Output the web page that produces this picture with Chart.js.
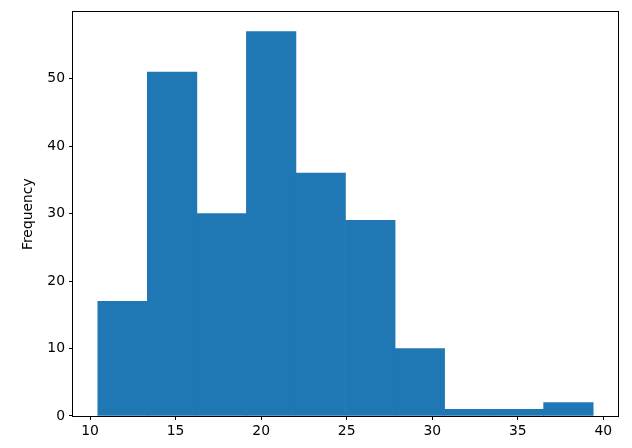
<!DOCTYPE html>
<html>
<head>
<meta charset="utf-8">
<script src="https://cdn.jsdelivr.net/npm/chart.js@4.4.1/dist/chart.umd.min.js"></script>
<style>
  html, body { margin: 0; padding: 0; background: #fff; }
  #wrap { width: 632px; height: 448px; position: relative; }
</style>
</head>
<body>
<div id="wrap"><canvas id="hist"></canvas></div>
<script>
// histogram data
const binEdges = [10.45, 13.35, 16.24, 19.14, 22.03, 24.93, 27.83, 30.72, 33.62, 36.51, 39.41];
const counts   = [17, 51, 30, 57, 36, 29, 10, 1, 1, 2];
const xTicks   = [10, 15, 20, 25, 30, 35, 40];
const yTicks   = [0, 10, 20, 30, 40, 50];
const yLabel   = 'Frequency';

const FONT = { family: 'DejaVu Sans', size: 13.9 };

// bars sit on bin centres, width comes from the bin spacing
const barData = counts.map((c, i) => ({ x: (binEdges[i] + binEdges[i + 1]) / 2, y: c }));

const xMin = binEdges[0] - 0.05 * (binEdges[binEdges.length - 1] - binEdges[0]);
const xMax = binEdges[binEdges.length - 1] + 0.05 * (binEdges[binEdges.length - 1] - binEdges[0]);
const yMax = Math.max(...counts) * 1.05;

// frame around the axes like matplotlib
const frame = {
    id: 'frame',
    afterDraw(chart) {
        const { ctx, chartArea: a } = chart;
        ctx.save();
        ctx.strokeStyle = '#000';
        ctx.lineWidth = 1;
        ctx.strokeRect(Math.round(a.left) - 0.5, Math.round(a.top) - 0.5,
                       Math.round(a.right - a.left) + 1, Math.round(a.bottom - a.top) + 1);
        ctx.restore();
    }
};

new Chart(document.getElementById('hist'), {
    type: 'bar',
    data: {
        datasets: [{
            data: barData,
            backgroundColor: '#1f77b4',
            borderWidth: 0,
            barPercentage: 1,
            categoryPercentage: 1
        }]
    },
    options: {
        responsive: true,
        maintainAspectRatio: false,
        animation: false,
        layout: { padding: { left: 0, right: 14, top: 9, bottom: 0 } },
        plugins: { legend: { display: false }, tooltip: { enabled: false } },
        scales: {
            x: {
                type: 'linear',
                offset: false,
                min: xMin,
                max: xMax,
                afterBuildTicks: s => { s.ticks = xTicks.map(v => ({ value: v })); },
                afterFit: s => { s.height = 32; },
                grid: { offset: false, drawOnChartArea: false, tickLength: 4, tickColor: '#000', tickWidth: 1 },
                border: { display: false },
                ticks: { color: '#000', font: FONT, padding: 3, maxRotation: 0 }
            },
            y: {
                min: 0,
                max: yMax,
                afterBuildTicks: s => { s.ticks = yTicks.map(v => ({ value: v })); },
                afterFit: s => { s.width = 73; },
                grid: { drawOnChartArea: false, tickLength: 4, tickColor: '#000', tickWidth: 1 },
                border: { display: false },
                ticks: { color: '#000', font: FONT, padding: 4 },
                title: { display: true, text: yLabel, color: '#000', font: FONT, padding: { top: 20, bottom: 0 } }
            }
        }
    },
    plugins: [frame]
});
</script>
</body>
</html>
